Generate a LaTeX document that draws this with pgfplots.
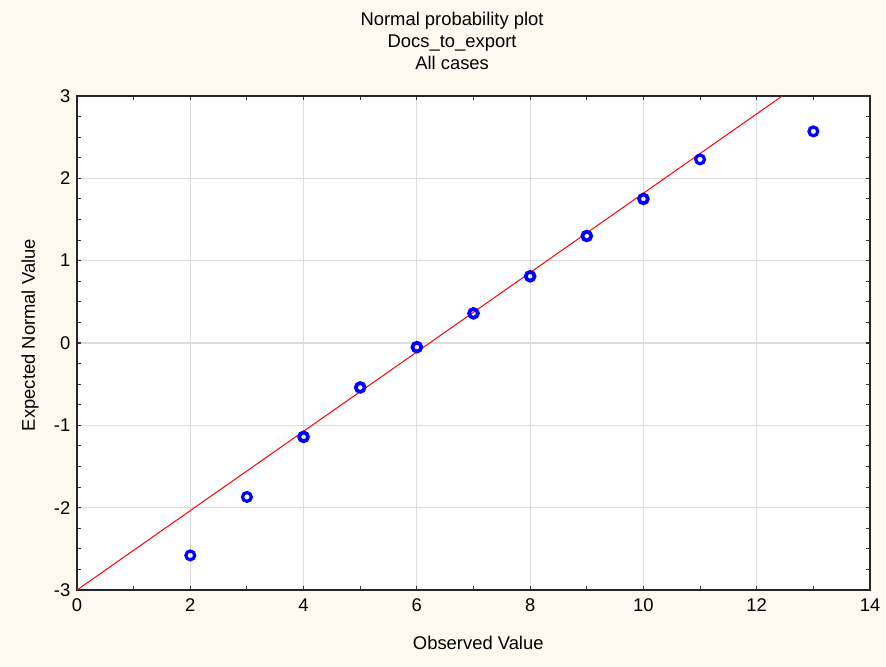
\documentclass[border=0pt]{standalone}
\usepackage{fontspec}
\setmainfont{Liberation Sans}
\usepackage{pgfplots}
\pgfplotsset{compat=1.18}
\definecolor{bgcream}{HTML}{FEF9EE}
\definecolor{gridgray}{HTML}{DCDCDC}
\newcommand{\chartfont}{\fontsize{13.8}{16.5}\selectfont}

\begin{document}
\begin{tikzpicture}
\fill[bgcream] (0,0) rectangle (664.5pt,500.25pt);
\begin{axis}[
 at={(57.75pt,57.75pt)},anchor=south west,
 scale only axis,width=594.75pt,height=370.5pt,
 xmin=0,xmax=14,ymin=-3,ymax=3,enlargelimits=false,
 axis background/.style={fill=white},
 xtick={0,2,...,14},xticklabels={0,2,4,6,8,10,12,14},
 ytick={-3,-2,...,3},yticklabels={-3,-2,-1,0,1,2,3},
 minor x tick num=1,minor y tick num=3,
 tick align=inside,major tick length=3pt,minor tick length=3pt,
 tick style={black!80,line width=0.8pt},
 axis line style={black!85,line width=1.1pt},
 grid=major,major grid style={gridgray,line width=0.8pt},
 ticklabel style={font=\chartfont},
 xticklabel style={yshift=-3pt},
 yticklabel style={xshift=-1.5pt},
 xlabel={Observed Value},ylabel={Expected Normal Value},
 label style={font=\chartfont},
 xlabel style={at={(axis description cs:0.506,-0.107)},anchor=center},
 ylabel style={at={(axis description cs:-0.059,0.516)},anchor=center},
 title={Normal probability plot\\Docs\_to\_export\\All cases},
 title style={font=\chartfont,align=center,at={(axis description cs:0.473,1.095)},anchor=center},
]
\addplot[red,line width=0.75pt] coordinates {(0,-3) (12.45,3)};
\addplot[only marks,mark=o,mark size=3.3pt,mark options={blue,line width=2.4pt}] coordinates {
 (2,-2.58) (3,-1.87) (11,2.23) (13,2.57)};
\addplot[only marks,mark=o,mark size=3.3pt,mark options={blue,line width=2.8pt}] coordinates {
 (4,-1.14) (5,-0.54) (6,-0.05) (7,0.36) (8,0.81) (9,1.30) (10,1.75)};
\end{axis}
\end{tikzpicture}
\end{document}
